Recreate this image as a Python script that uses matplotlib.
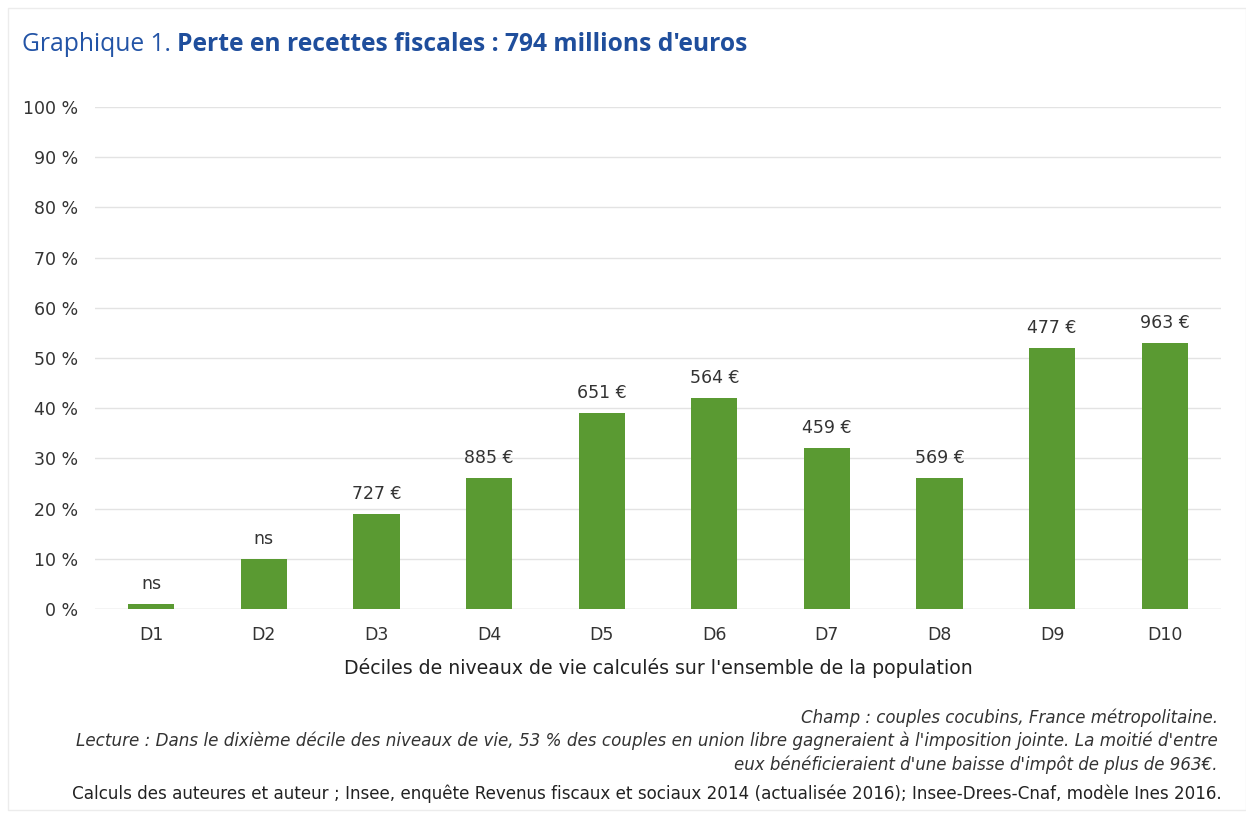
import matplotlib
matplotlib.use("Agg")
import matplotlib.pyplot as plt
from matplotlib.patches import Rectangle

categories = ["D1", "D2", "D3", "D4", "D5", "D6", "D7", "D8", "D9", "D10"]
values = [1, 10, 19, 26, 39, 42, 32, 26, 52, 53]
bar_labels = ["ns", "ns", "727 €", "885 €", "651 €", "564 €", "459 €", "569 €", "477 €", "963 €"]
yticks = list(range(0, 101, 10))
ytick_labels = [f"{v} %" for v in yticks]

plt.rcParams['font.family'] = ['DejaVu Sans']
W, H = 1246, 816
fig = plt.figure(figsize=(W / 100, H / 100), dpi=100)

# faint frame
fig.patches.append(Rectangle((8 / W, 6 / H), (W - 8) / W, (H - 14) / H, transform=fig.transFigure,
                             fill=False, edgecolor="#ececec", linewidth=1))

ax = fig.add_axes([95 / W, 1 - 609 / H, (1221 - 95) / W, (609 - 107) / H])
x = list(range(len(categories)))
ax.bar(x, values, width=0.41, color="#5a9a32", zorder=3)
for xi, v, lab in zip(x, values, bar_labels):
    ax.annotate(lab, (xi, v), xytext=(0, 8), textcoords="offset points", ha="center", va="bottom",
                fontsize=12.5, color="#333333")
ax.set_xlim(-0.5, len(categories) - 0.5)
ax.set_ylim(0, 100)
ax.set_yticks(yticks)
ax.set_yticklabels(ytick_labels, fontsize=12.5, color="#333333")
ax.set_xticks(x)
ax.set_xticklabels(categories, fontsize=12.5, color="#333333")
ax.tick_params(axis="both", length=0)
ax.tick_params(axis="y", pad=12)
ax.tick_params(axis="x", pad=12)
ax.grid(axis="y", color="#e3e3e3", linewidth=1, zorder=0)
ax.set_axisbelow(True)
for s in ax.spines.values():
    s.set_visible(False)
ax.axhline(0, color="#e3e3e3", linewidth=1, zorder=1)
ax.set_xlabel("Déciles de niveaux de vie calculés sur l'ensemble de la population", fontsize=13.6,
              color="#222222", labelpad=10)

# Title
t1 = fig.text(22 / W, 1 - 51 / H, "Graphique 1. ", fontsize=17.7, color="#2354a6", va="baseline",
              family="Open Sans")
fig.canvas.draw()
bb = t1.get_window_extent(fig.canvas.get_renderer())
fig.text(bb.x1 / W, 1 - 51 / H, "Perte en recettes fiscales : 794 millions d'euros", fontsize=17.7,
         color="#1f4e9c", fontweight="bold", va="baseline", family="Open Sans")

# Footnotes
rx = 1218 / W
fig.text(rx, 1 - 723 / H, "Champ : couples cocubins, France métropolitaine.", ha="right", va="baseline",
         fontsize=12, style="italic", color="#333333")
fig.text(rx, 1 - 746 / H,
         "Lecture : Dans le dixième décile des niveaux de vie, 53 % des couples en union libre gagneraient à l'imposition jointe. La moitié d'entre",
         ha="right", va="baseline", fontsize=12.05, style="italic", color="#333333")
fig.text(rx, 1 - 770 / H, "eux bénéficieraient d'une baisse d'impôt de plus de 963€.", ha="right", va="baseline",
         fontsize=12, style="italic", color="#333333")
fig.text(1222 / W, 1 - 799 / H,
         "Calculs des auteures et auteur ; Insee, enquête Revenus fiscaux et sociaux 2014 (actualisée 2016); Insee-Drees-Cnaf, modèle Ines 2016.",
         ha="right", va="baseline", fontsize=12.1, color="#222222")

fig.savefig("out.png", dpi=100, facecolor="white")
